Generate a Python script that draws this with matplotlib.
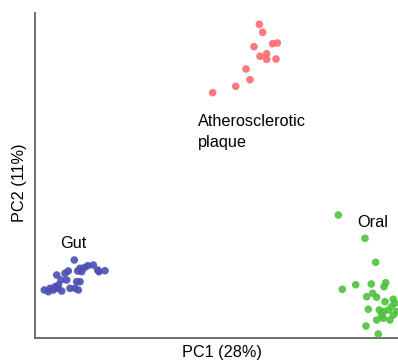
import matplotlib
matplotlib.use("Agg")
import matplotlib.pyplot as plt

# Data (arbitrary PC units)
plaque_x = [224.3, 227.7, 219, 237.7, 242.3, 225, 231.7, 231.7, 241, 211, 215, 200.7, 177.7]
plaque_y = [313.7, 305.7, 291.3, 294.3, 295, 281.7, 284.3, 278.7, 279, 269, 258.3, 251.7, 245.3]

gut_x = [39.3, 45, 49.3, 52.7, 58.3, 62.7, 70, 64, 46.7, 42.7, 33.3, 30, 21.7, 26, 31.7, 41.7, 45,
         23.3, 20, 15, 18.3, 9.3, 22.7, 35, 40, 43.3, 26.7, 13.3]
gut_y = [78, 69.7, 70.3, 72.3, 73, 68, 67.3, 66.3, 66.3, 67, 67, 64.7, 63, 58, 58, 56.3, 56.3,
         53, 51.3, 49.7, 48, 48, 49.7, 49.7, 49.7, 48, 47, 46.3]

oral_x = [303.3, 330, 340.7, 307.3, 320.7, 336.3, 350.7, 349, 331.7, 337.7, 341.7, 350, 358.3,
          360, 356.7, 333.3, 344.3, 348.3, 353.3, 361.7, 341.7, 348.3, 355, 331, 343.3, 358.3, 346.7]
oral_y = [123, 99.7, 75.7, 48.7, 53.3, 54, 55.3, 51.3, 41.3, 44.7, 40.7, 36.3, 38.7, 34.7, 31.3,
          28.7, 28, 26.3, 28, 26.3, 18, 19.7, 18, 12, 4, 23, 23]

fig = plt.figure(figsize=(3.98, 3.61), dpi=100)
ax = fig.add_axes([35/398, 23/361, 1 - 35/398 + 0.01, (338-13)/361])
ax.set_xlim(0, 367)
ax.set_ylim(0, 325)

kw = dict(s=30, edgecolors='none', alpha=0.9, zorder=3, clip_on=True)
ax.scatter(plaque_x, plaque_y, color='#ff6a6e', **kw)
ax.scatter(gut_x, gut_y, color='#4a4fb3', **kw)
ax.scatter(oral_x, oral_y, color='#4cc23c', **kw)

fs = 11.7
font = ['Liberation Sans', 'DejaVu Sans']
ax.text(163, 224, 'Atherosclerotic\nplaque', fontsize=fs, family=font, va='top', ha='left', linespacing=1.5)
ax.text(25, 95, 'Gut', fontsize=fs, family=font, va='center', ha='left')
ax.text(322, 116, 'Oral', fontsize=fs, family=font, va='center', ha='left')

for s in ['top', 'right']:
    ax.spines[s].set_visible(False)
for s in ['left', 'bottom']:
    ax.spines[s].set_color('#6e6e6e')
    ax.spines[s].set_linewidth(1.4)
ax.set_xticks([])
ax.set_yticks([])
ax.set_xlabel('PC1 (28%)', fontsize=fs, family=font, va='center')
ax.set_ylabel('PC2 (11%)', fontsize=fs, family=font, va='center')
ax.xaxis.set_label_coords((222-35)/367, -15/325)
ax.yaxis.set_label_coords(-16/367, (338-183)/325)

fig.savefig('out.png', dpi=100)
